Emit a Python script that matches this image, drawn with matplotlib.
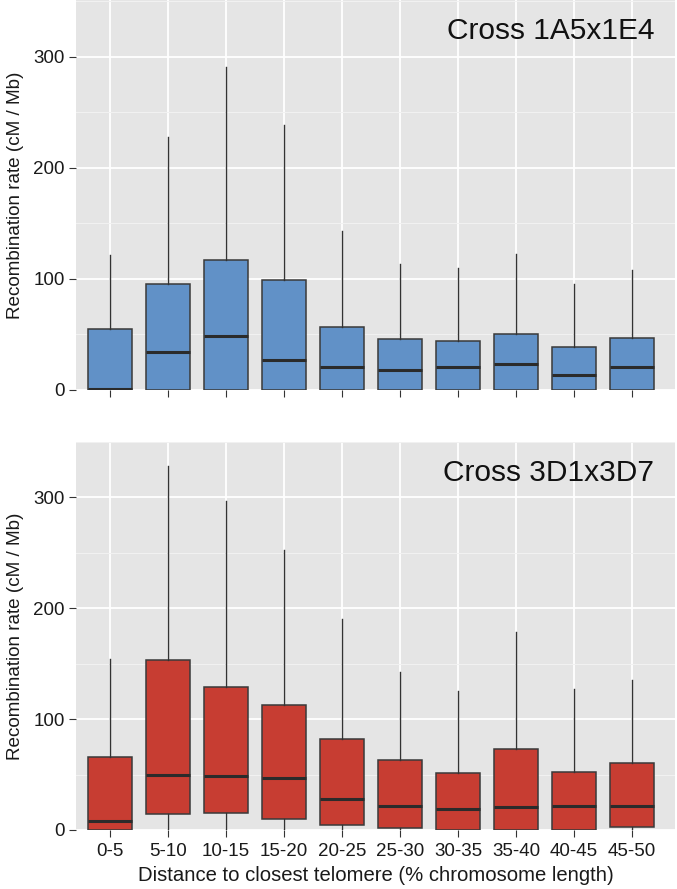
import matplotlib
matplotlib.use("Agg")
import matplotlib.pyplot as plt
from matplotlib.ticker import MultipleLocator

plt.rcParams['font.family'] = ['Liberation Sans', 'DejaVu Sans']

categories = ["0-5", "5-10", "10-15", "15-20", "20-25", "25-30", "30-35", "35-40", "40-45", "45-50"]

# Cross 1A5x1E4
top_whishi = [121.6, 228, 290.7, 238.7, 143, 113, 110, 122, 95.8, 108]
top_q3 = [54.6, 95.2, 117, 99, 57, 46, 44.4, 50, 38.4, 46.5]
top_med = [0.5, 34.5, 48.6, 26.7, 20.7, 18.3, 21, 23, 13.2, 21]
top_q1 = [0, 0, 0, 0, 0, 0, 0, 0, 0, 0]
top_whislo = [0, 0, 0, 0, 0, 0, 0, 0, 0, 0]

# Cross 3D1x3D7
bot_whishi = [153.9, 328, 296.4, 252.5, 190.5, 142.2, 125.3, 179, 127, 135.3]
bot_q3 = [66.1, 153.3, 128.6, 112.7, 82, 63.1, 51.1, 72.7, 52, 60.7]
bot_med = [8.1, 49.6, 48.7, 46.6, 28, 21.9, 18.9, 21, 21.9, 21.9]
bot_q1 = [0, 14.4, 15.6, 9.6, 4.5, 1.5, 0, 0, 0, 2.7]
bot_whislo = [0, 0, 0, 0, 0, 0, 0, 0, 0, 0]

titles = ["Cross 1A5x1E4", "Cross 3D1x3D7"]
colors = ["#6191C7", "#C73D32"]
ylabel = "Recombination rate (cM / Mb)"
xlabel = "Distance to closest telomere (% chromosome length)"

fig = plt.figure(figsize=(6.77, 8.89), dpi=100)
W, H = 677, 889
axes_px = [(76, 0, 599, 390), (76, 442, 599, 388)]

datasets = [
    (top_whislo, top_q1, top_med, top_q3, top_whishi, 351),
    (bot_whislo, bot_q1, bot_med, bot_q3, bot_whishi, 350),
]

for i, (px, data) in enumerate(zip(axes_px, datasets)):
    x0, y0, w, h = px
    ax = fig.add_axes([x0 / W, 1 - (y0 + h) / H, w / W, h / H])
    wl, q1, med, q3, wh, ymax = data
    stats = []
    for j in range(len(categories)):
        stats.append(dict(whislo=wl[j], q1=q1[j], med=med[j], q3=q3[j], whishi=wh[j],
                          label=categories[j], fliers=[]))
    ax.set_facecolor("#E5E5E5")
    ax.yaxis.set_major_locator(MultipleLocator(100))
    ax.yaxis.set_minor_locator(MultipleLocator(50))
    ax.grid(which="major", color="white", linewidth=1.3, zorder=0)
    ax.grid(which="minor", axis="y", color="#F2F2F2", linewidth=0.7, zorder=0)
    ax.set_axisbelow(True)
    ax.bxp(stats, positions=range(len(categories)), widths=0.76, patch_artist=True,
           showcaps=False, showfliers=False,
           boxprops=dict(facecolor=colors[i], edgecolor="#3A3A3A", linewidth=1.1),
           medianprops=dict(color="#2B2B2B", linewidth=2.2),
           whiskerprops=dict(color="#333333", linewidth=1.0))
    ax.set_xlim(-0.586, 9.74)
    ax.set_ylim(0, ymax)
    for s in ax.spines.values():
        s.set_visible(False)
    ax.tick_params(axis="both", which="major", length=5, color="#333333", labelsize=13.5,
                   labelcolor="#1A1A1A", pad=3)
    ax.tick_params(axis="x", which="major", pad=4.5)
    ax.tick_params(axis="y", which="minor", length=0)
    ax.set_ylabel(ylabel, fontsize=13.6, color="#1A1A1A", labelpad=7)
    ax.set_xticks(range(len(categories)))
    if i == 0:
        ax.set_xticklabels([])
    else:
        ax.set_xticklabels(categories)
        ax.set_xlabel(xlabel, fontsize=14.6, color="#1A1A1A", labelpad=4)
    ax.text(0.965, 0.92, titles[i], transform=ax.transAxes, ha="right", va="center",
            fontsize=21.5, color="#111111")

fig.savefig("out.png", dpi=100)
